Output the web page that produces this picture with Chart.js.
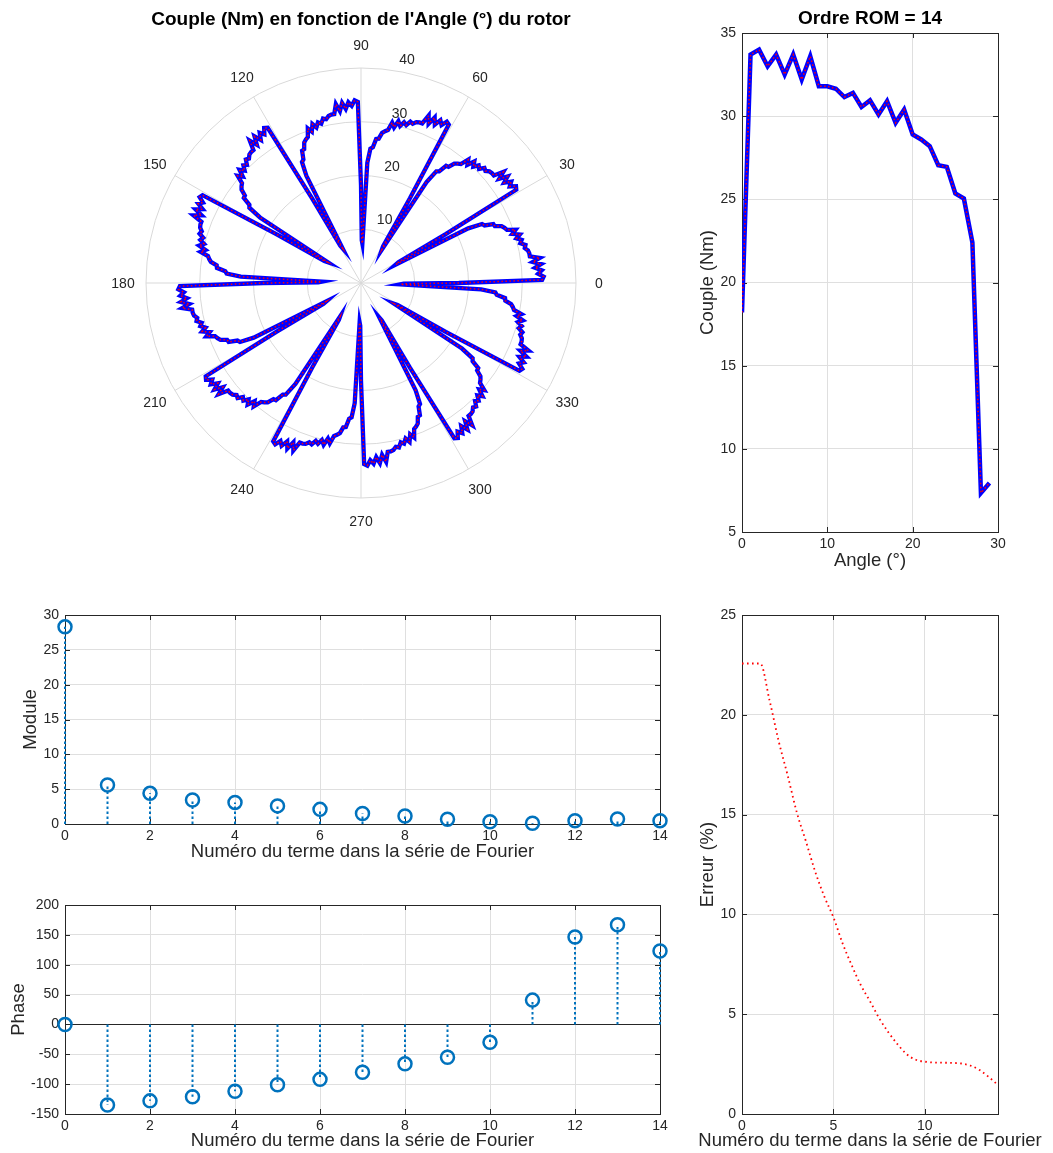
<!DOCTYPE html>
<html lang="fr">
<head>
    <meta charset="UTF-8">
    <title>Couple ROM</title>
    <style>
        body { margin: 0; background: #fff; overflow: hidden; }
        .box { position: absolute; }
        #polarBox  { left: 0;     top: 0;     width: 722px; height: 566px; }
        #coupleBox { left: 690px; top: 0;     width: 363px; height: 585px; }
        #moduleBox { left: 0;     top: 590px; width: 700px; height: 280px; }
        #phaseBox  { left: 0;     top: 880px; width: 700px; height: 273px; }
        #errBox    { left: 690px; top: 590px; width: 363px; height: 563px; }
    </style>
</head>
<body>
    <div class="box" id="polarBox"><canvas id="polar"></canvas></div>
    <div class="box" id="coupleBox"><canvas id="couple"></canvas></div>
    <div class="box" id="moduleBox"><canvas id="module"></canvas></div>
    <div class="box" id="phaseBox"><canvas id="phase"></canvas></div>
    <div class="box" id="errBox"><canvas id="err"></canvas></div>

    <script src="https://cdn.jsdelivr.net/npm/chart.js@4.4.1/dist/chart.umd.min.js"></script>
    <script>
        // couple over one 30 deg period
        const angleDeg = [0, 1, 2, 3, 4, 5, 6, 7, 8, 9, 10, 11, 12, 13, 14, 15, 16, 17, 18, 19, 20, 21, 22, 23, 24, 25, 26, 27, 28, 29];
        const couple = [18.2, 33.7, 34.0, 33.0, 33.7, 32.5, 33.7, 32.2, 33.6, 31.8, 31.8, 31.65, 31.15, 31.4, 30.55,
                        30.95, 30.1, 30.9, 29.6, 30.4, 28.9, 28.6, 28.2, 27.05, 26.95, 25.35, 25.05, 22.4, 7.35, 7.95];
        const petalStart = [0, 30, 60, 90, 120, 150, 180, 210, 240, 270, 300, 330];
        const polarAngleLabels = [0, 30, 60, 90, 120, 150, 180, 210, 240, 270, 300, 330];
        const polarRTicks = [10, 20, 30, 40];

        // fourier terms
        const termNo = [0, 1, 2, 3, 4, 5, 6, 7, 8, 9, 10, 11, 12, 13, 14];
        const moduleVals = [28.3, 5.6, 4.4, 3.45, 3.1, 2.6, 2.1, 1.5, 1.15, 0.67, 0.33, 0.1, 0.48, 0.72, 0.48];
        const phaseVals = [0, -135, -128, -121, -112, -101, -92, -80, -66, -55, -30, 40.7, 146.5, 167, 123];

        // erreur vs nombre de termes
        const errX = [0, 0.5, 1, 1.5, 2, 2.5, 3, 3.5, 4, 4.5, 5, 5.5, 6, 6.5, 7, 7.5, 8, 8.5, 9, 9.5, 10, 10.5, 11, 11.5, 12, 12.5, 13, 13.5, 14];
        const errVals = [22.57, 22.57, 22.57, 20.75, 18.7, 16.95, 15.1, 13.65, 12.15, 10.9, 9.85, 8.55, 7.45, 6.45, 5.65,
                         4.8, 4.1, 3.5, 3.0, 2.72, 2.62, 2.58, 2.57, 2.56, 2.53, 2.42, 2.2, 1.85, 1.45];

        const FONT = '"Liberation Sans", Arial, Helvetica, sans-serif';
        const GRID = '#dfdfdf';
        const AXIS = '#262626';
        const BLUE = '#0072BD';

        Chart.defaults.font.family = FONT;
        Chart.defaults.font.size = 14;
        Chart.defaults.color = AXIS;
        Chart.defaults.animation = false;
        Chart.defaults.maintainAspectRatio = false;
        Chart.defaults.plugins.legend.display = false;
        Chart.defaults.plugins.tooltip.enabled = false;

        // matlab style box with inward ticks
        const boxTicks = {
            id: 'boxTicks',
            beforeDatasetsDraw(chart) {
                const {ctx, chartArea: a, scales} = chart;
                const len = 5;
                const r = v => Math.round(v) + 0.5;
                ctx.save();
                ctx.strokeStyle = AXIS;
                ctx.lineWidth = 1;
                ctx.beginPath();
                scales.x.ticks.forEach(t => {
                    const px = r(scales.x.getPixelForValue(t.value));
                    ctx.moveTo(px, a.bottom); ctx.lineTo(px, a.bottom - len);
                    ctx.moveTo(px, a.top); ctx.lineTo(px, a.top + len);
                });
                scales.y.ticks.forEach(t => {
                    const py = r(scales.y.getPixelForValue(t.value));
                    ctx.moveTo(a.left, py); ctx.lineTo(a.left + len, py);
                    ctx.moveTo(a.right, py); ctx.lineTo(a.right - len, py);
                });
                ctx.stroke();
                ctx.strokeRect(r(a.left), r(a.top), Math.round(a.right - a.left), Math.round(a.bottom - a.top));
                ctx.restore();
            }
        };

        function xAxis(min, max, step, title, h, padBottom) {
            return {
                type: 'linear', min: min, max: max,
                ticks: { stepSize: step, padding: 4, maxRotation: 0, autoSkip: false },
                grid: { color: GRID, drawTicks: false },
                border: { display: false },
                title: { display: true, text: title, font: { size: 18.5 }, padding: { top: 0, bottom: padBottom } },
                afterFit: s => { s.height = h; }
            };
        }

        function yAxis(min, max, step, title, w, padTop) {
            return {
                type: 'linear', min: min, max: max,
                ticks: { stepSize: step, padding: 6 },
                grid: { color: GRID, drawTicks: false },
                border: { display: false },
                title: { display: true, text: title, font: { size: 18.5 }, padding: { top: padTop, bottom: 0 } },
                afterFit: s => { s.width = w; }
            };
        }

        // ---------- polar plot (radar with one label per degree) ----------
        const thetaDeg = [];
        const rho = [];
        petalStart.forEach(p => {
            angleDeg.forEach((a, k) => { thetaDeg.push(p + a); rho.push(couple[k]); });
        });
        // radar goes clockwise from the top, matlab goes counter-clockwise from the right
        const radarLabels = thetaDeg.map((_, i) => String((450 - i) % 360));
        const radarVals = radarLabels.map(l => rho[thetaDeg.indexOf(Number(l))]);
        const cut = radarLabels.indexOf('0'); // no line between 359 and 0
        const hideCut = c => (c.p0DataIndex === cut && c.p1DataIndex === cut + 1) ? 'rgba(0,0,0,0)' : undefined;

        const polarText = {
            id: 'polarText',
            beforeDatasetsDraw(chart) {
                const {ctx} = chart;
                const s = chart.scales.r;
                ctx.save();
                ctx.font = '14px ' + FONT;
                ctx.fillStyle = AXIS;
                ctx.textBaseline = 'middle';
                ctx.textAlign = 'left';
                const idx82 = radarLabels.indexOf('82');
                polarRTicks.forEach(v => {
                    const p = s.getPointPosition(idx82, s.getDistanceFromCenterForValue(v + 0.5));
                    ctx.fillText(String(v), p.x + 8, p.y - 7);
                });
                ctx.textAlign = 'center';
                polarAngleLabels.forEach(a => {
                    const p = s.getPointPosition(radarLabels.indexOf(String(a)), s.drawingArea * 1.107);
                    ctx.fillText(String(a), p.x, p.y + 1);
                });
                ctx.restore();
            }
        };

        new Chart(document.getElementById('polar'), {
            type: 'radar',
            data: {
                labels: radarLabels,
                datasets: [{
                    data: radarVals,
                    borderColor: '#ff0000',
                    borderWidth: 1.5,
                    borderDash: [1.5, 2.5],
                    fill: false,
                    pointRadius: 0,
                    segment: { borderColor: hideCut }
                }, {
                    data: radarVals,
                    borderColor: '#0000ff',
                    borderWidth: 4.3,
                    borderJoinStyle: 'miter',
                    fill: false,
                    pointRadius: 0,
                    segment: { borderColor: hideCut }
                }]
            },
            options: {
                layout: { padding: { left: 146, right: 146, top: 0, bottom: 68 } },
                plugins: {
                    title: {
                        display: true,
                        text: "Couple (Nm) en fonction de l'Angle (°) du rotor",
                        color: '#000',
                        font: { size: 19, weight: 'bold' },
                        padding: { top: 8, bottom: 37.2 }
                    }
                },
                elements: { line: { tension: 0 } },
                scales: {
                    r: {
                        min: 0, max: 40,
                        startAngle: 0,
                        ticks: { stepSize: 10, display: false },
                        pointLabels: { display: false },
                        grid: { circular: true, color: '#d9d9d9' },
                        angleLines: {
                            color: '#d9d9d9',
                            lineWidth: c => (Number(radarLabels[c.index]) % 30 === 0 ? 1 : 0)
                        }
                    }
                }
            },
            plugins: [polarText]
        });

        // ---------- couple vs angle ----------
        const couplePts = angleDeg.map((a, i) => ({ x: a, y: couple[i] }));
        new Chart(document.getElementById('couple'), {
            type: 'line',
            data: {
                datasets: [{
                    data: couplePts,
                    borderColor: '#ff0000',
                    borderWidth: 1.5,
                    borderDash: [1.5, 2.5],
                    pointRadius: 0
                }, {
                    data: couplePts,
                    borderColor: '#0000ff',
                    borderWidth: 4.5,
                    pointRadius: 0
                }]
            },
            options: {
                layout: { padding: { left: 0, right: 55, top: 0, bottom: 0 } },
                plugins: {
                    title: {
                        display: true, text: 'Ordre ROM = 14', color: '#000',
                        font: { size: 19, weight: 'bold' },
                        padding: { top: 7.6, bottom: 2.6 },
                        fullSize: false
                    }
                },
                scales: {
                    x: xAxis(0, 30, 10, 'Angle (°)', 53, 12.9),
                    y: yAxis(5, 35, 5, 'Couple (Nm)', 52, 7.2)
                }
            },
            plugins: [boxTicks]
        });

        // ---------- stem plots ----------
        function stemData(vals) {
            const pts = [];
            vals.forEach((v, i) => { pts.push({ x: termNo[i], y: 0 }, { x: termNo[i], y: v }, { x: termNo[i], y: null }); });
            return pts;
        }

        function stemChart(id, vals, yMin, yMax, yStep, yTitle, padTop, xh, padBottom, grid0) {
            const y = yAxis(yMin, yMax, yStep, yTitle, 65, padTop);
            if (grid0) y.grid.color = c => (c.tick && c.tick.value === 0 ? AXIS : GRID);
            return new Chart(document.getElementById(id), {
                type: 'line',
                data: {
                    datasets: [{
                        data: vals.map((v, i) => ({ x: termNo[i], y: v })),
                        showLine: false,
                        pointRadius: 6.5,
                        pointBorderWidth: 2.5,
                        pointBorderColor: BLUE,
                        pointBackgroundColor: 'rgba(0,0,0,0)',
                        clip: false
                    }, {
                        data: stemData(vals),
                        borderColor: BLUE,
                        borderWidth: 2,
                        borderDash: [2.5, 2.5],
                        pointRadius: 0,
                        spanGaps: false,
                        clip: false
                    }]
                },
                options: {
                    layout: { padding: { left: 0, right: 40, top: 25, bottom: 0 } },
                    scales: {
                        x: xAxis(0, 14, 2, 'Numéro du terme dans la série de Fourier', xh, padBottom),
                        y: y
                    }
                },
                plugins: [boxTicks]
            });
        }

        stemChart('module', moduleVals, 0, 30, 5, 'Module', 19.9, 46, 6.9, false);
        stemChart('phase', phaseVals, -150, 200, 50, 'Phase', 7.4, 39, 0.9, true);

        // ---------- erreur ----------
        // the x title is wider than the axis, so it is written by hand (scale titles get squeezed)
        const wideXTitle = {
            id: 'wideXTitle',
            afterDraw(chart) {
                const {ctx, chartArea: a} = chart;
                ctx.save();
                ctx.font = '18.5px ' + FONT;
                ctx.fillStyle = AXIS;
                ctx.textAlign = 'center';
                ctx.textBaseline = 'middle';
                ctx.fillText('Numéro du terme dans la série de Fourier', (a.left + a.right) / 2, chart.height - 12);
                ctx.restore();
            }
        };
        const errXAxis = xAxis(0, 14, 5, '', 39, 0.9);
        errXAxis.title.display = false;
        errXAxis.afterBuildTicks = s => { s.ticks = s.ticks.filter(t => t.value % 5 === 0); };
        new Chart(document.getElementById('err'), {
            type: 'line',
            data: {
                datasets: [{
                    data: errX.map((x, i) => ({ x: x, y: errVals[i] })),
                    borderColor: '#ff0000',
                    borderWidth: 1.8,
                    borderDash: [1.6, 3.4],
                    cubicInterpolationMode: 'monotone',
                    pointRadius: 0
                }]
            },
            options: {
                layout: { padding: { left: 0, right: 55, top: 25, bottom: 0 } },
                scales: {
                    x: errXAxis,
                    y: yAxis(0, 25, 5, 'Erreur (%)', 52, 7.2)
                }
            },
            plugins: [boxTicks, wideXTitle]
        });
    </script>
</body>
</html>
